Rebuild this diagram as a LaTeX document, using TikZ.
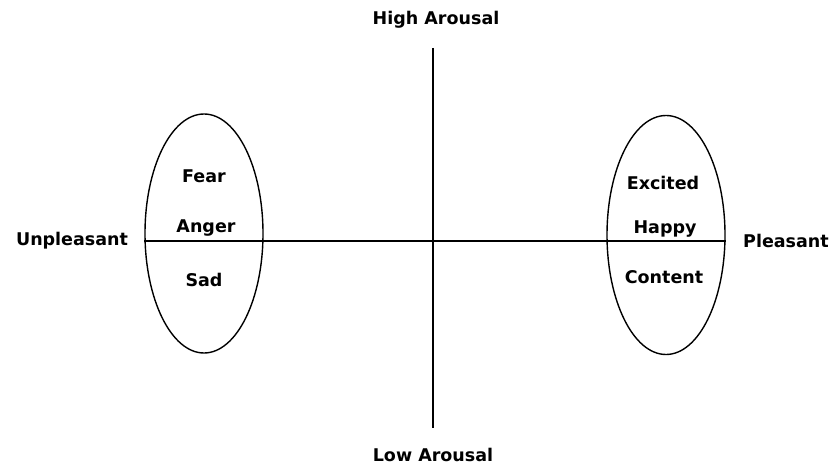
\documentclass[tikz,border=0pt]{standalone}
\usepackage{fontspec}
\setmainfont{DejaVu Sans}
\usetikzlibrary{shapes.geometric}
\begin{document}
\begin{tikzpicture}[x=1pt,y=-1pt,
  lbl/.style={font=\bfseries\fontsize{17.5}{19}\selectfont, inner sep=0pt, anchor=center},
  axis/.style={draw=black, line width=1.4pt},
  oval/.style={draw=black, line width=1.4pt, ellipse, minimum width=118pt, minimum height=239pt, inner sep=0pt}]
\useasboundingbox (0,0) rectangle (834,470);
\node[oval] (L) at (204,233.5) {};
\node[oval] (R) at (666,235) {};
\coordinate (top) at (433,48);
\coordinate (bot) at (433,428);
\draw[axis] (top) -- (bot);
\draw[axis] (L.west |- 0,241) coordinate (hl) -- (R.east |- 0,241) coordinate (hr);
\node[lbl] (ha) at (436,20) {High Arousal};
\node[lbl] (la) at (433,455) {Low Arousal};
\node[lbl] (un) at (72,241) {Unpleasant};
\node[lbl] (pl) at (786,241) {Pleasant};
\node[lbl] (fear) at (204,176) {Fear};
\node[lbl] (anger) at (206,228) {Anger};
\node[lbl] (sad) at (204,280) {Sad};
\node[lbl] (exc) at (663,183) {Excited};
\node[lbl] (hap) at (665,229) {Happy};
\node[lbl] (con) at (664,277) {Content};
\end{tikzpicture}
\end{document}
